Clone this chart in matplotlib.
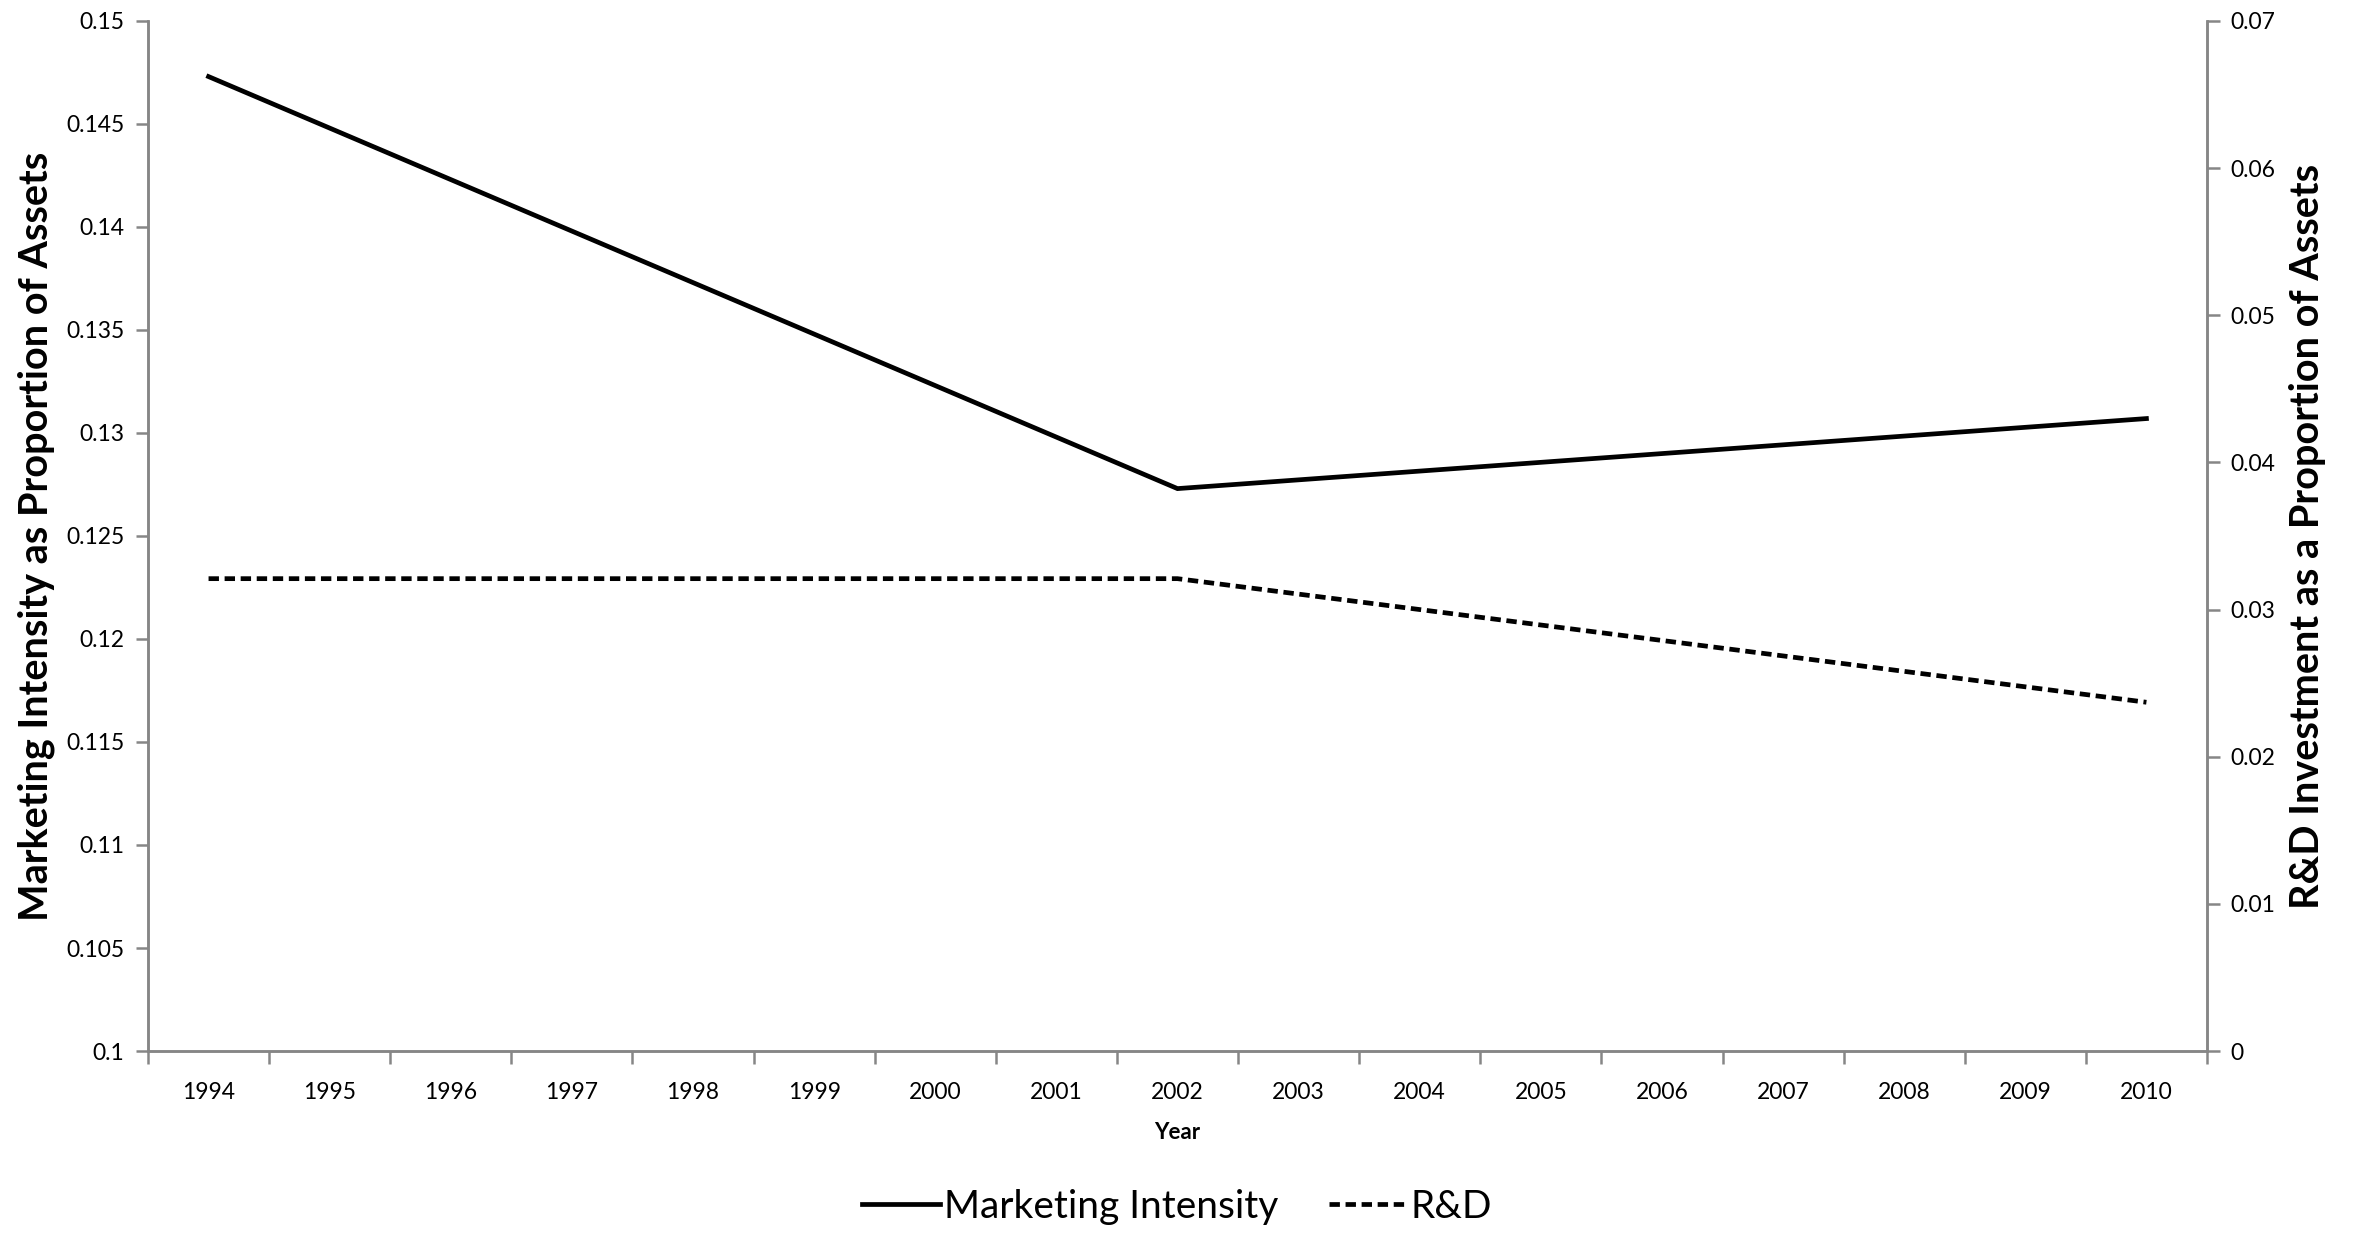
import matplotlib
matplotlib.use('Agg')
import matplotlib.pyplot as plt
import numpy as np

plt.rcParams['font.family'] = ['Lato', 'DejaVu Sans']

years = [str(y) for y in range(1994, 2011)]
point_years = [1994, 2002, 2010]
marketing = [0.1473, 0.1273, 0.1307]
rnd = [0.0321, 0.0321, 0.0237]

left_ticks = [0.1, 0.105, 0.11, 0.115, 0.12, 0.125, 0.13, 0.135, 0.14, 0.145, 0.15]
left_labels = ['0.1', '0.105', '0.11', '0.115', '0.12', '0.125', '0.13', '0.135', '0.14', '0.145', '0.15']
right_ticks = [0, 0.01, 0.02, 0.03, 0.04, 0.05, 0.06, 0.07]
right_labels = ['0', '0.01', '0.02', '0.03', '0.04', '0.05', '0.06', '0.07']

GRAY = '#868686'

fig = plt.figure(figsize=(23.68, 12.33), dpi=100)
ax = fig.add_axes([0.0625, 0.1476, 0.8695, 0.8354])
ax2 = ax.twinx()

xpos = [y - 1994 for y in point_years]
l1, = ax.plot(xpos, marketing, color='black', lw=3.4, solid_joinstyle='miter')
l2, = ax2.plot(xpos, rnd, color='black', lw=3.4, linestyle=(0, (2.2, 1.2)))

ax.set_xlim(-0.5, len(years) - 0.5)
ax.set_ylim(0.1, 0.15)
ax2.set_ylim(0, 0.07)

ax.set_xticks(np.arange(len(years)))
ax.set_xticklabels(years, fontsize=16.5)
ax.set_xticks(np.arange(len(years) + 1) - 0.5, minor=True)
ax.tick_params(axis='x', which='major', length=0, pad=22)
ax.tick_params(axis='x', which='minor', length=9, width=1.8, color=GRAY, direction='out')

ax.set_yticks(left_ticks)
ax.set_yticklabels(left_labels, fontsize=16.5)
ax.tick_params(axis='y', length=9, width=1.8, color=GRAY, pad=8)
ax2.set_yticks(right_ticks)
ax2.set_yticklabels(right_labels, fontsize=16.5)
ax2.tick_params(axis='y', length=9, width=1.8, color=GRAY, pad=8)

for a in (ax, ax2):
    a.spines['top'].set_visible(False)
    for s in ('left', 'right', 'bottom'):
        a.spines[s].set_color(GRAY)
        a.spines[s].set_linewidth(1.8)

ax.set_xlabel('Year', fontsize=16, fontweight='bold', labelpad=14)
ax.set_ylabel('Marketing Intensity as Proportion of Assets', fontsize=28.5, fontweight='bold', labelpad=8)
ax2.set_ylabel('R&D Investment as a Proportion of Assets', fontsize=28.5, fontweight='bold', labelpad=10)

fig.legend([l1, l2], ['Marketing Intensity', 'R&D'], loc='center', bbox_to_anchor=(0.497, 0.021),
           ncol=2, frameon=False, fontsize=28, handlelength=2.0, handletextpad=0.1, columnspacing=1.3)

fig.savefig('out.png', dpi=100)
